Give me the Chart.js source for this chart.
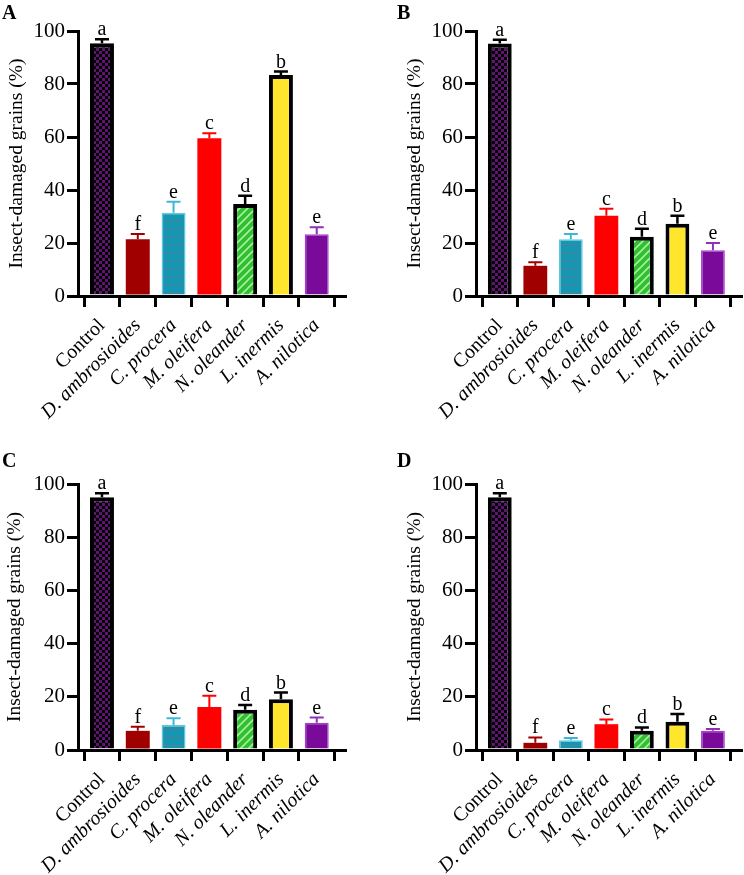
<!DOCTYPE html>
<html><head><meta charset="utf-8">
<script src="https://cdn.jsdelivr.net/npm/chart.js@4.4.0/dist/chart.umd.min.js"></script>
<style>
html,body{margin:0;padding:0;background:#fff;width:744px;height:875px;overflow:hidden}
.panel{position:absolute}
.lbl{position:absolute;font:bold 20px "Liberation Serif","Times New Roman",serif;line-height:20px;color:#000}
</style></head><body>
<div class="panel" style="left:0;top:0"><canvas id="cA" width="372" height="437"></canvas></div>
<div class="panel" style="left:372px;top:0"><canvas id="cB" width="372" height="437"></canvas></div>
<div class="panel" style="left:0;top:437px"><canvas id="cC" width="372" height="438"></canvas></div>
<div class="panel" style="left:372px;top:437px"><canvas id="cD" width="372" height="438"></canvas></div>
<div class="lbl" style="left:2px;top:2px">A</div>
<div class="lbl" style="left:397px;top:2px">B</div>
<div class="lbl" style="left:2px;top:450px">C</div>
<div class="lbl" style="left:397px;top:450px">D</div>
<script>
// ---- data ----
const categories = ['Control','D. ambrosioides','C. procera','M. oleifera','N. oleander','L. inermis','A. nilotica'];
const sigLetters = ['a','f','e','c','d','b','e'];
const yTickValues = [0,20,40,60,80,100];
const meansA = [95.4,21.4,31.4,59.5,34.7,83.4,23.3];
const errA   = [1.5,2.0,4.2,1.9,3.1,1.3,2.6];
const meansB = [95.3,11.4,21.4,30.3,22.4,27.3,17.3];
const errB   = [1.4,1.3,2.0,2.6,3.0,3.0,2.7];
const meansC = [95.0,7.2,9.4,16.2,15.1,19.1,10.2];
const errC   = [1.5,1.5,2.5,4.2,1.8,2.5,2.0];
const meansD = [95.0,2.7,3.7,9.7,7.2,10.6,7.2];
const errD   = [1.5,2.0,0.8,1.8,1.3,2.9,0.7];

const SERIF = '"Liberation Serif","Times New Roman",serif';

// ---- patterns ----
function mk(w,h,draw){const c=document.createElement('canvas');c.width=w;c.height=h;const g=c.getContext('2d');draw(g);return document.createElement('canvas').getContext('2d').createPattern(c,'repeat');}
const checker = mk(6,6,g=>{g.fillStyle='#000';g.fillRect(0,0,6,6);g.fillStyle='#5E1470';g.fillRect(0,0,3,3);g.fillRect(3,3,3,3);});
const hlines = mk(8,8,g=>{g.fillStyle='#1597B3';g.fillRect(0,0,8,8);g.fillStyle='#4B8498';g.fillRect(0,4,8,1.2);});
const diag = mk(8,8,g=>{g.fillStyle='#2FBF2F';g.fillRect(0,0,8,8);g.strokeStyle='#A6F0A0';g.lineWidth=1.6;
  g.beginPath();g.moveTo(-1,9);g.lineTo(9,-1);g.moveTo(-1,1);g.lineTo(1,-1);g.moveTo(7,9);g.lineTo(9,7);g.stroke();});
const fills = [checker,'#A00000',hlines,'#FF0000',diag,'#FFE52B','#7A0A9A'];
const borders = ['#000','#A00000','#5CC8E0','#FF1A1A','#000','#000','#A040C8'];
const bWidths = [4,0,1.5,0,4,4,1.5];
const errColors = ['#000','#A00000','#3DB8D4','#FF0000','#000','#000','#9030B8'];
const errWidths = [2.5,2,2,2,2.5,2.5,2];

const errPlugin = {
  id:'errbars',
  afterDatasetsDraw(chart){
    const {ctx} = chart; const ys = chart.scales.y;
    const meta = chart.getDatasetMeta(0);
    const ds = chart.data.datasets[0];
    ctx.save();
    meta.data.forEach((bar,i)=>{
      const m = ds.data[i].y, e = ds.errs[i];
      const yTop = ys.getPixelForValue(m+e);
      const x = bar.x;
      ctx.strokeStyle = errColors[i]; ctx.lineWidth = errWidths[i];
      ctx.beginPath(); ctx.moveTo(x, bar.y); ctx.lineTo(x, yTop);
      ctx.moveTo(x-7, yTop); ctx.lineTo(x+7, yTop); ctx.stroke();
      ctx.fillStyle = '#000'; ctx.font = '20px '+SERIF; ctx.textAlign='center'; ctx.textBaseline='alphabetic';
      ctx.fillText(sigLetters[i], x, yTop-4);
    });
    ctx.restore();
  }
};

function makePanel(id, means, errs, g){
  const data = means.map((v,i)=>({x:i,y:v}));
  new Chart(document.getElementById(id), {
    type:'bar',
    data:{datasets:[{data, errs, backgroundColor:fills, borderColor:borders, borderWidth:bWidths,
      barPercentage:0.67, categoryPercentage:1}]},
    plugins:[errPlugin],
    options:{
      responsive:false, animation:false, devicePixelRatio:1,
      layout:{padding:{left:g.left, top:g.top, right:g.right, bottom:0}},
      plugins:{legend:{display:false}, tooltip:{enabled:false}},
      scales:{
        x:{type:'linear', min:-0.67, max:6.79, offset:false,
          afterBuildTicks:s=>{s.ticks = categories.map((_,i)=>({value:i}));},
          afterFit:s=>{s.height = g.xh;},
          grid:{drawOnChartArea:false, drawTicks:true, tickLength:11, lineWidth:3, color:'#000'},
          border:{display:true, width:3, color:'#000'},
          ticks:{autoSkip:false, minRotation:45, maxRotation:45, padding:7, color:'#000',
            callback:(v)=>categories[v],
            font:(c)=>({family:SERIF, size:20, style: c.index===0?'normal':'italic'})}
        },
        y:{min:0, max:100,
          afterBuildTicks:s=>{s.ticks = yTickValues.map(v=>({value:v}));},
          afterFit:s=>{s.width = 78;},
          grid:{drawOnChartArea:false, drawTicks:true, tickLength:11, lineWidth:3, color:'#000'},
          border:{display:true, width:3, color:'#000'},
          ticks:{padding:2, color:'#000', font:{family:SERIF, size:21}},
          title:{display:true, text:'Insect-damaged grains (%)', color:'#000', padding:{top:g.tp,bottom:0}, font:{family:SERIF,size:19.5}}
        }
      }
    }
  });
}
makePanel('cA', meansA, errA, {left:0, top:31, right:27, xh:141, tp:5});
makePanel('cB', meansB, errB, {left:26, top:31, right:3, xh:141, tp:5});
makePanel('cC', meansC, errC, {left:0, top:47, right:27, xh:125, tp:3});
makePanel('cD', meansD, errD, {left:26, top:47, right:3, xh:125, tp:5});
</script>
</body></html>
